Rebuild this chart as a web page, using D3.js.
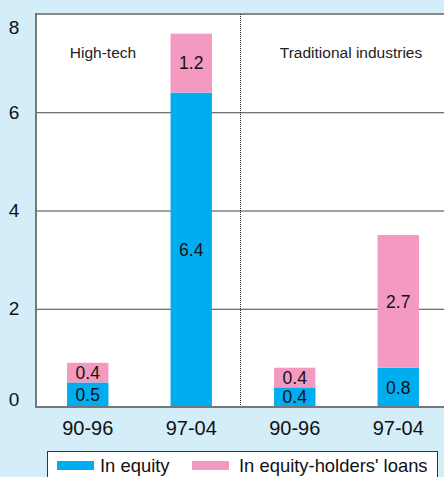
<!DOCTYPE html>
<html>
<head>
<meta charset="utf-8">
<script src="https://cdn.jsdelivr.net/npm/d3@7/dist/d3.min.js"></script>
<style>
  html, body { margin: 0; padding: 0; background: #d4eef9; }
  svg { display: block; font-family: "Liberation Sans", Arial, sans-serif; }
</style>
</head>
<body>
<svg id="chart" width="444" height="477"></svg>
<script>
// Periods shown for each industry group
const categories = ["HT 90-96", "HT 97-04", "TI 90-96", "TI 97-04"];
const periodLabels = ["90-96", "97-04", "90-96", "97-04"];
const groupLabels = ["High-tech", "Traditional industries"];
// Financing sources (stacked, bottom to top)
const equity = [0.5, 6.4, 0.4, 0.8];
const loans = [0.4, 1.2, 0.4, 2.7];
const seriesNames = ["In equity", "In equity-holders' loans"];
const yTicks = [0, 2, 4, 6, 8];

const colors = { equity: "#00aeef", loans: "#f49ac1" };

const svg = d3.select("#chart");
const W = 444, H = 477;
const plotLeft = 36, plotRight = 450, plotTop = 14, plotBottom = 407;

svg.append("rect").attr("width", W).attr("height", H).attr("fill", "#d4eef9");

const x = d3.scaleBand().domain(categories).range([plotLeft, plotRight])
  .paddingInner(0.6).paddingOuter(0.3);
const y = d3.scaleLinear().domain([0, 8]).range([plotBottom, plotTop]);

// Plot background
svg.append("rect")
  .attr("x", plotLeft).attr("y", plotTop)
  .attr("width", plotRight - plotLeft).attr("height", plotBottom - plotTop)
  .attr("fill", "#ffffff");

// Gridlines
svg.append("g").selectAll("line")
  .data(yTicks.filter(d => d > 0 && d < 8))
  .join("line")
  .attr("x1", plotLeft).attr("x2", plotRight)
  .attr("y1", d => y(d) + 0.5).attr("y2", d => y(d) + 0.5)
  .attr("stroke", "#444").attr("stroke-width", 1);

// Top frame line
svg.append("line")
  .attr("x1", plotLeft).attr("x2", plotRight)
  .attr("y1", y(8)).attr("y2", y(8))
  .attr("stroke", "#888").attr("stroke-width", 2);

// Group divider (dotted, just left of the midpoint between the groups)
const divMid = (x(categories[1]) + x.bandwidth() + x(categories[2])) / 2;
const divX = Math.round(divMid) - 2.5;
svg.append("line")
  .attr("x1", divX).attr("x2", divX)
  .attr("y1", plotTop).attr("y2", plotBottom)
  .attr("stroke", "#222").attr("stroke-width", 1)
  .attr("stroke-dasharray", "1,1");

// Stacked data
const rows = categories.map((c, i) => ({ key: c, equity: equity[i], loans: loans[i] }));
const stacked = d3.stack().keys(["equity", "loans"])(rows);

const layers = svg.append("g").selectAll("g")
  .data(stacked)
  .join("g")
  .attr("fill", d => colors[d.key]);

layers.selectAll("rect")
  .data(d => d)
  .join("rect")
  .attr("x", d => x(d.data.key))
  .attr("width", x.bandwidth())
  .attr("y", d => y(d[1]))
  .attr("height", d => y(d[0]) - y(d[1]));

// Segment value labels
const labelG = svg.append("g");
stacked.forEach(layer => {
  labelG.selectAll(null)
    .data(layer)
    .join("text")
    .attr("x", d => x(d.data.key) + x.bandwidth() / 2)
    .attr("y", d => (y(d[0]) + y(d[1])) / 2)
    .attr("dy", "0.36em")
    .attr("text-anchor", "middle")
    .attr("font-size", 17.5)
    .attr("fill", "#111")
    .text(d => d.data[layer.key].toFixed(1));
});

// Axes frame
svg.append("line")
  .attr("x1", plotLeft).attr("x2", plotLeft)
  .attr("y1", plotTop - 1).attr("y2", plotBottom + 1)
  .attr("stroke", "#777").attr("stroke-width", 2);
svg.append("line")
  .attr("x1", plotLeft - 1).attr("x2", plotRight)
  .attr("y1", plotBottom).attr("y2", plotBottom)
  .attr("stroke", "#777").attr("stroke-width", 2);

// Y tick labels
const yAxis = d3.axisLeft(y).tickValues(yTicks).tickSize(0).tickPadding(0);
const yg = svg.append("g").attr("transform", `translate(${plotLeft},0)`).call(yAxis);
yg.select(".domain").remove();
yg.selectAll("text")
  .attr("x", -22)
  .attr("text-anchor", "middle")
  .attr("font-family", "Liberation Sans, Arial, sans-serif")
  .attr("font-size", 19)
  .attr("fill", "#111")
  .attr("dy", d => d === 8 ? "1.05em" : d === 0 ? "-0.1em" : "0.32em");

// X category labels
const xAxis = d3.axisBottom(x).tickSize(0).tickPadding(0)
  .tickFormat((d, i) => periodLabels[i]);
const xg = svg.append("g").attr("transform", `translate(0,${plotBottom})`).call(xAxis);
xg.select(".domain").remove();
xg.selectAll("text")
  .attr("y", 28)
  .attr("dy", 0)
  .attr("font-family", "Liberation Sans, Arial, sans-serif")
  .attr("font-size", 20)
  .attr("fill", "#111");

// Group titles
const groupCenters = [103, 351];
svg.append("g").selectAll("text")
  .data(groupLabels)
  .join("text")
  .attr("x", (d, i) => groupCenters[i])
  .attr("y", 58)
  .attr("text-anchor", "middle")
  .attr("font-size", 15.5)
  .attr("fill", "#222")
  .text(d => d);

// Legend
const legend = svg.append("g");
legend.append("rect")
  .attr("x", 47.5).attr("y", 451.5)
  .attr("width", 390).attr("height", 40)
  .attr("fill", "#fff").attr("stroke", "#333").attr("stroke-width", 1);
const legendItems = [
  { name: seriesNames[0], color: colors.equity, x: 57, tx: 100 },
  { name: seriesNames[1], color: colors.loans, x: 192, tx: 239 }
];
legendItems.forEach(it => {
  legend.append("rect")
    .attr("x", it.x).attr("y", 461)
    .attr("width", 37).attr("height", 9)
    .attr("fill", it.color);
  legend.append("text")
    .attr("x", it.tx).attr("y", 472)
    .attr("font-size", 18.4)
    .attr("fill", "#111")
    .text(it.name);
});
</script>
</body>
</html>
